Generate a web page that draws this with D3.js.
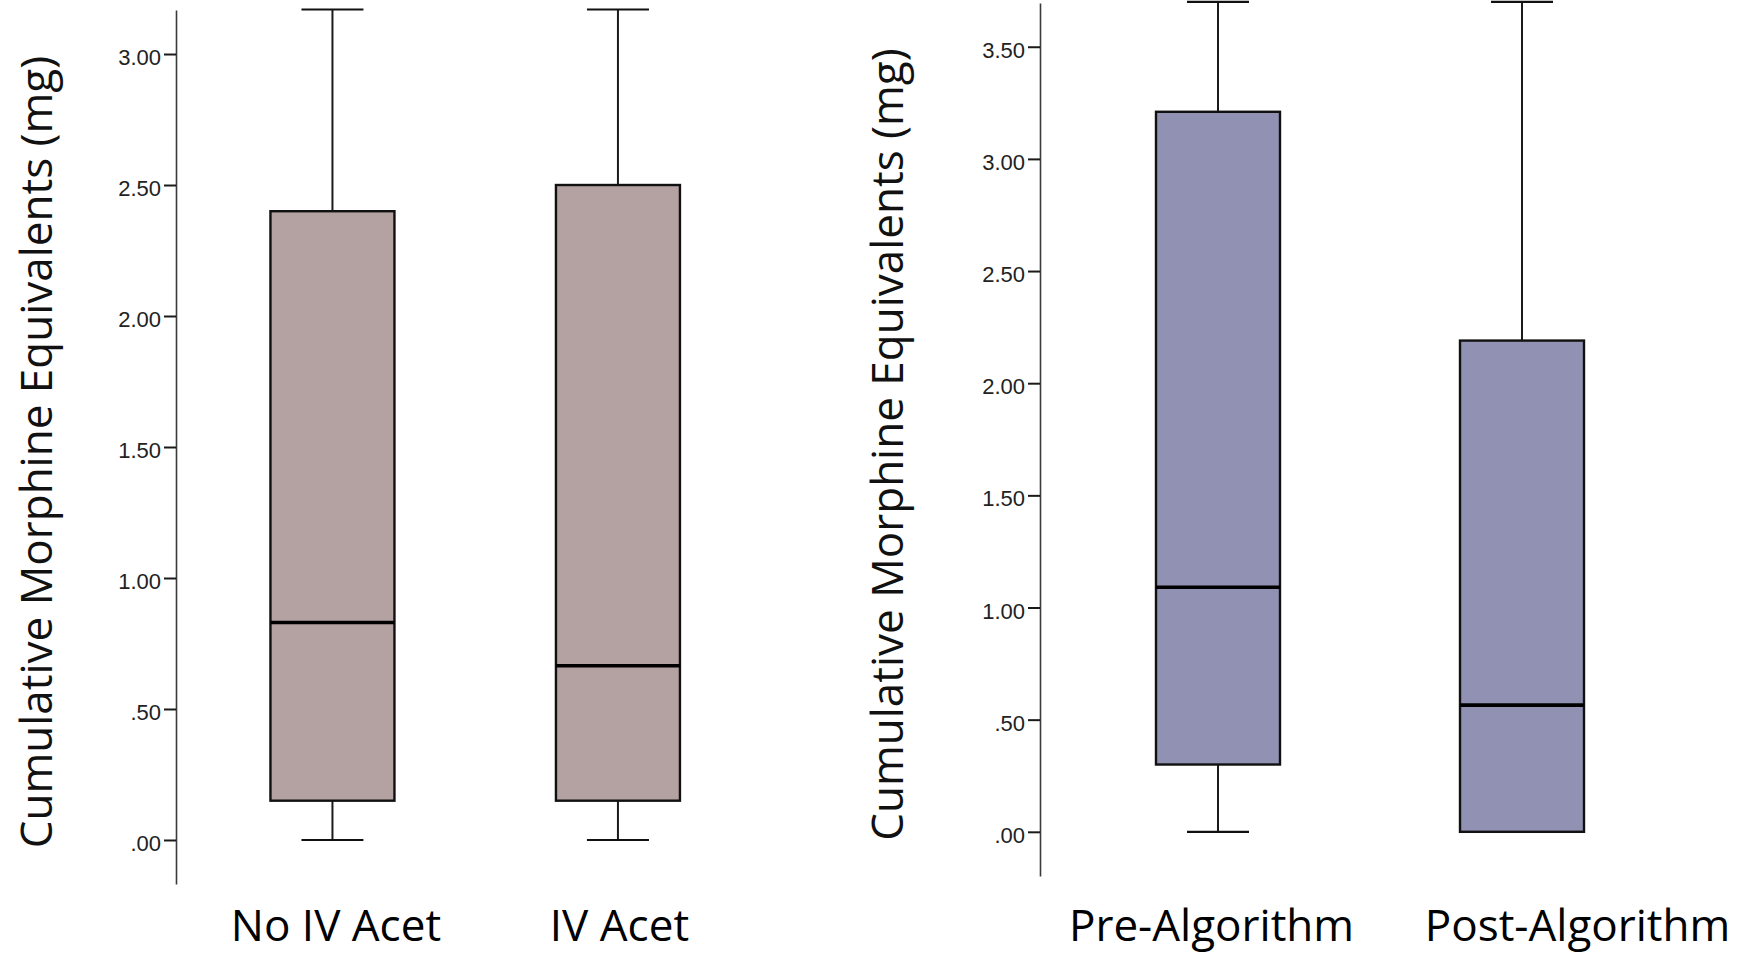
<!DOCTYPE html>
<html>
<head>
<meta charset="utf-8">
<script src="https://cdn.jsdelivr.net/npm/d3@7"></script>
<style>
  html, body { margin: 0; padding: 0; background: #fff; }
  svg { display: block; }
</style>
</head>
<body>
<svg id="chart"></svg>
<script>
// left panel: IV acetaminophen
const acetGroups = ['No IV Acet', 'IV Acet']
const acetMin = [0, 0]
const acetQ1 = [0.15, 0.15]
const acetMedian = [0.83, 0.665]
const acetQ3 = [2.4, 2.5]
const acetMax = [3.17, 3.17]
const acetTicks = [0, 0.5, 1, 1.5, 2, 2.5, 3]

// right panel: algorithm
const algoGroups = ['Pre-Algorithm', 'Post-Algorithm']
const algoMin = [0, 0]
const algoQ1 = [0.3, 0]
const algoMedian = [1.09, 0.565]
const algoQ3 = [3.21, 2.19]
const algoMax = [3.7, 3.7]
const algoTicks = [0, 0.5, 1, 1.5, 2, 2.5, 3, 3.5]

const yTitle = 'Cumulative Morphine Equivalents (mg)'

const W = 1739
const H = 953

const svg = d3.select('#chart').attr('width', W).attr('height', H)

const tickFmt = (v) => d3.format('.2f')(v).replace(/^0\./, '.')

function zip(groups, mins, q1s, meds, q3s, maxs) {
  return groups.map((g, i) => ({
    name: g,
    min: mins[i],
    q1: q1s[i],
    median: meds[i],
    q3: q3s[i],
    max: maxs[i],
  }))
}

function drawPanel(opts) {
  const { data, ticks, fill, axisX, xEnd, pad, yDomain, yRange, titleX, labelShift } = opts

  const x = d3.scalePoint().domain(data.map((d) => d.name)).range([axisX, xEnd]).padding(pad)
  const y = d3.scaleLinear().domain(yDomain).range(yRange)

  const boxW = 124
  const capW = 62

  const g = svg.append('g')

  // y axis
  const yAxis = d3.axisLeft(y).tickValues(ticks).tickFormat(tickFmt).tickSize(12).tickSizeOuter(0).tickPadding(3)
  const ax = g.append('g').attr('transform', `translate(${axisX},0)`).call(yAxis)
  ax.select('.domain').attr('stroke', '#3a3a3a').attr('stroke-width', 1.6)
  ax.selectAll('.tick line').attr('stroke', '#1a1a1a').attr('stroke-width', 2)
  ax.selectAll('.tick text')
    .attr('fill', '#222')
    .attr('dy', '0.48em')
    .style('font-family', '"Liberation Sans", Arial, sans-serif')
    .style('font-size', '22px')

  // y title
  g.append('text')
    .attr('transform', `translate(${titleX},${(yRange[0] + yRange[1]) / 2 + 5}) rotate(-90)`)
    .attr('text-anchor', 'middle')
    .attr('fill', '#111')
    .style('font-family', '"Open Sans", sans-serif')
    .style('font-size', '44px')
    .text(yTitle)

  const box = g.selectAll('.box').data(data).enter().append('g').attr('class', 'box')

  // whisker stems
  box.append('line')
    .attr('x1', (d) => x(d.name)).attr('x2', (d) => x(d.name))
    .attr('y1', (d) => y(d.max)).attr('y2', (d) => y(d.q3))
    .attr('stroke', '#1a1a1a').attr('stroke-width', 2)
  box.append('line')
    .attr('x1', (d) => x(d.name)).attr('x2', (d) => x(d.name))
    .attr('y1', (d) => y(d.q1)).attr('y2', (d) => y(d.min))
    .attr('stroke', '#1a1a1a').attr('stroke-width', 2)

  // caps
  box.filter((d) => d.max > d.q3).append('line')
    .attr('x1', (d) => x(d.name) - capW / 2).attr('x2', (d) => x(d.name) + capW / 2)
    .attr('y1', (d) => y(d.max)).attr('y2', (d) => y(d.max))
    .attr('stroke', '#111').attr('stroke-width', 2.2)
  box.filter((d) => d.min < d.q1).append('line')
    .attr('x1', (d) => x(d.name) - capW / 2).attr('x2', (d) => x(d.name) + capW / 2)
    .attr('y1', (d) => y(d.min)).attr('y2', (d) => y(d.min))
    .attr('stroke', '#111').attr('stroke-width', 2.2)

  // box
  box.append('rect')
    .attr('x', (d) => x(d.name) - boxW / 2)
    .attr('width', boxW)
    .attr('y', (d) => y(d.q3))
    .attr('height', (d) => y(d.q1) - y(d.q3))
    .attr('fill', fill)
    .attr('stroke', '#111')
    .attr('stroke-width', 2.4)

  // median
  box.append('line')
    .attr('x1', (d) => x(d.name) - boxW / 2).attr('x2', (d) => x(d.name) + boxW / 2)
    .attr('y1', (d) => y(d.median)).attr('y2', (d) => y(d.median))
    .attr('stroke', '#000').attr('stroke-width', 3.6)

  // category labels
  const xAxis = d3.axisBottom(x).tickSize(0).tickPadding(0)
  const xa = g.append('g').attr('transform', 'translate(0,941)').call(xAxis)
  xa.select('.domain').remove()
  xa.selectAll('.tick text')
    .attr('y', 0)
    .attr('dy', 0)
    .attr('dx', (d, i) => labelShift[i])
    .attr('fill', '#000')
    .style('font-family', '"Open Sans", sans-serif')
    .style('font-size', '44px')
}

drawPanel({
  data: zip(acetGroups, acetMin, acetQ1, acetMedian, acetQ3, acetMax),
  ticks: acetTicks,
  fill: '#b4a1a2',
  axisX: 176,
  xEnd: 774.4,
  pad: 0.548,
  yDomain: [-0.168, 3.168],
  yRange: [884, 10],
  titleX: 52,
  labelShift: [3, 1],
})

drawPanel({
  data: zip(algoGroups, algoMin, algoQ1, algoMedian, algoQ3, algoMax),
  ticks: algoTicks,
  fill: '#9191b3',
  axisX: 1040,
  xEnd: 1700,
  pad: 0.5855,
  yDomain: [-0.197, 3.695],
  yRange: [876, 3],
  titleX: 903,
  labelShift: [-7, 55],
})
</script>
</body>
</html>
